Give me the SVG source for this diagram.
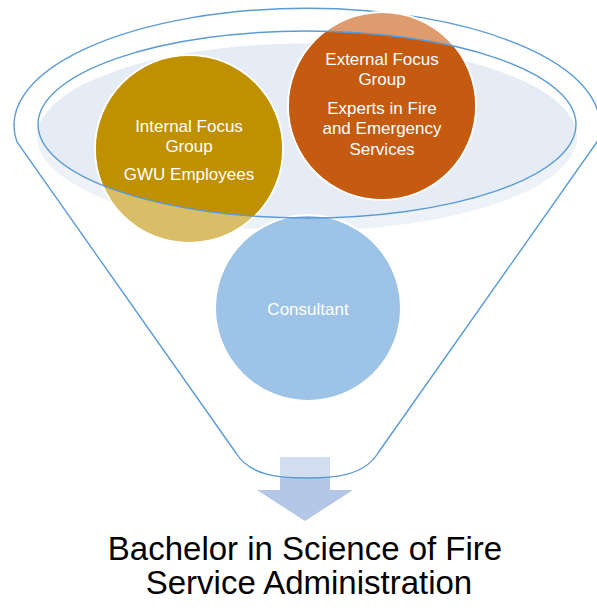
<svg xmlns="http://www.w3.org/2000/svg" width="597" height="616" viewBox="0 0 597 616">
  <style>
    .lbl { font-family: "Liberation Sans", Arial, sans-serif; font-size: 17px; fill: #FFFFFF; text-anchor: middle; }
    .title { font-family: "Liberation Sans", Arial, sans-serif; font-size: 33px; fill: #000000; text-anchor: middle; }
    .line { fill: none; stroke: #5B9BD5; stroke-width: 1.4; }
    .ring { stroke: #FFFFFF; stroke-width: 2; }
  </style>
  <defs>
    <clipPath id="innerClip">
      <ellipse cx="307" cy="124.5" rx="269" ry="93.5"/>
    </clipPath>
    <clipPath id="funnelClip">
      <path d="M 17 142 A 293 117 0 1 1 597 142 L 378 453 C 364 476 334 478 307 478 C 280 478 250 476 236 453 Z"/>
    </clipPath>
  </defs>
  <rect width="597" height="616" fill="#FFFFFF"/>

  <g id="arrow">
    <path d="M 280 457 L 330 457 L 330 490 L 353 490 L 305 521 L 257 490 L 280 490 Z" fill="#B4C7E7"/>
    <path d="M 280 457 L 330 457 L 330 490 L 280 490 Z" fill="#D2DEEF" clip-path="url(#funnelClip)"/>
  </g>

  <g id="funnel">
    <ellipse cx="307" cy="137" rx="270" ry="93.5" fill="#EDF2F9"/>
    <ellipse cx="307" cy="137" rx="270" ry="93.5" fill="#E6ECF6" clip-path="url(#innerClip)"/>
    <path class="line" d="M 17 142 A 293 117 0 1 1 597 142 L 378 453 C 364 476 334 478 307 478 C 280 478 250 476 236 453 Z"/>
  </g>

  <g id="internal">
    <circle class="ring" cx="189" cy="149" r="94" fill="#D9BD67"/>
    <circle cx="189" cy="149" r="93" fill="#BF9000" clip-path="url(#innerClip)"/>
    <text class="lbl" x="189" y="132">Internal Focus</text>
    <text class="lbl" x="189" y="152">Group</text>
    <text class="lbl" x="189" y="180">GWU Employees</text>
  </g>

  <g id="external">
    <circle class="ring" cx="382" cy="106" r="94" fill="#DE9B6D"/>
    <circle cx="382" cy="106" r="93" fill="#C55A11" clip-path="url(#innerClip)"/>
    <text class="lbl" x="382" y="65">External Focus</text>
    <text class="lbl" x="382" y="85">Group</text>
    <text class="lbl" x="382" y="114">Experts in Fire</text>
    <text class="lbl" x="382" y="134">and Emergency</text>
    <text class="lbl" x="382" y="155">Services</text>
  </g>

  <g id="consultant">
    <circle class="ring" cx="308" cy="308" r="93" fill="#9DC3E6"/>
    <text class="lbl" x="308" y="315">Consultant</text>
  </g>

  <g id="connectors">
    <ellipse class="line" cx="307" cy="124.5" rx="269" ry="93.5" stroke-width="1.6"/>
  </g>

  <g id="result">
    <text class="title" x="305" y="560">Bachelor in Science of Fire</text>
    <text class="title" x="309" y="594">Service Administration</text>
  </g>
</svg>
